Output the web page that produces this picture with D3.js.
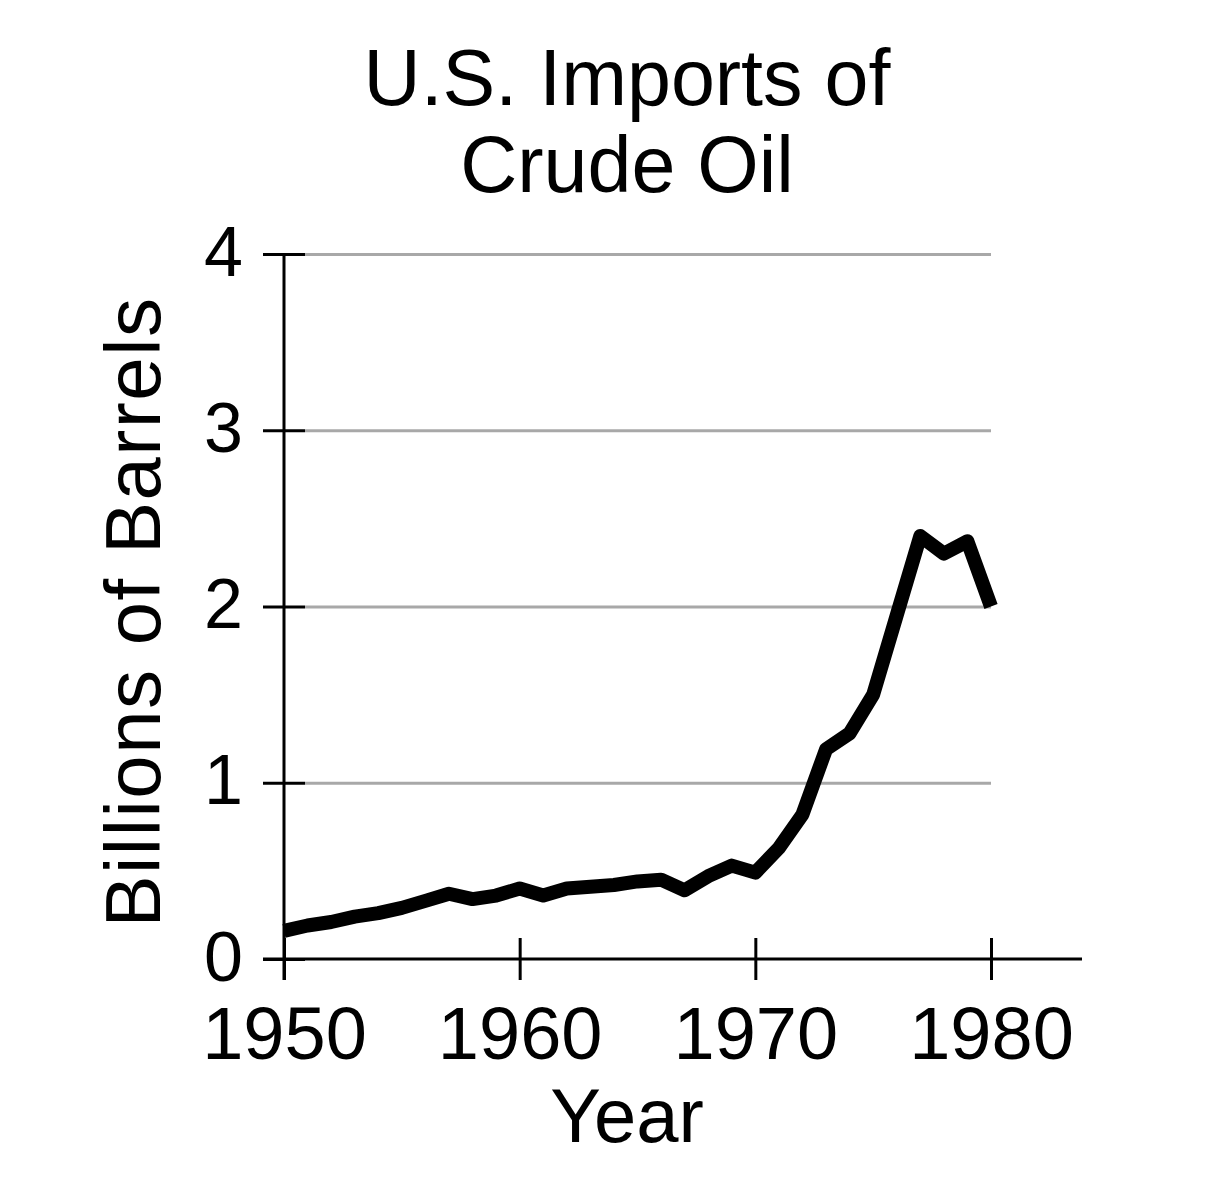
<!DOCTYPE html>
<html>
<head>
<meta charset="utf-8">
<script src="https://cdn.jsdelivr.net/npm/d3@7"></script>
<style>
  body { margin: 0; background: #fff; }
  text { font-family: "Liberation Sans", Arial, Helvetica, sans-serif; fill: #000; }
</style>
</head>
<body>
<div id="chart"></div>
<script>
// values (billions of barrels)
var years = [1950,1951,1952,1953,1954,1955,1956,1957,1958,1959,
             1960,1961,1962,1963,1964,1965,1966,1967,1968,1969,
             1970,1971,1972,1973,1974,1975,1976,1977,1978,1979,1980];
var imports = [0.16,0.19,0.21,0.24,0.26,0.29,0.33,0.37,0.34,0.36,
               0.40,0.36,0.40,0.41,0.42,0.44,0.45,0.39,0.47,0.53,
               0.49,0.63,0.82,1.19,1.28,1.50,1.95,2.40,2.30,2.37,2.00];
var xTicks = [1950, 1960, 1970, 1980];
var yTicks = [0, 1, 2, 3, 4];
var titleLines = ["U.S. Imports of", "Crude Oil"];

var W = 1224, H = 1200;
var svg = d3.select("#chart").append("svg").attr("width", W).attr("height", H);

var x = d3.scaleLinear().domain([1950, 1980]).range([284, 991]);
var y = d3.scaleLinear().domain([0, 4]).range([959, 254]);
var tk = 21;

// gridlines
var grid = svg.append("g").attr("transform", "translate(" + x(1950) + ",0)")
  .call(d3.axisLeft(y).tickValues(yTicks.filter(function(d){ return d > 0; }))
    .tickSize(-(x(1980) - x(1950))).tickFormat(""));
grid.select(".domain").remove();
grid.selectAll("line").attr("stroke", "#a8a8a8").attr("stroke-width", 3).attr("x1", tk);

// y axis
var ya = svg.append("g").attr("transform", "translate(" + x(1950) + ",0)")
  .call(d3.axisLeft(y).tickValues(yTicks).tickFormat(d3.format("d")).tickSize(0).tickPadding(41));
ya.select(".domain").remove();
ya.selectAll(".tick line").attr("x1", -tk).attr("x2", tk).attr("stroke", "#000").attr("stroke-width", 3);
ya.selectAll("text").attr("font-size", 70).attr("dy", "0.3em");
ya.append("line").attr("x1", 0).attr("x2", 0).attr("y1", y(4)).attr("y2", y(0) + tk)
  .attr("stroke", "#000").attr("stroke-width", 3);

// x axis
var xa = svg.append("g").attr("transform", "translate(0," + y(0) + ")")
  .call(d3.axisBottom(x).tickValues(xTicks).tickFormat(d3.format("d")).tickSize(0).tickPadding(47));
xa.select(".domain").remove();
xa.selectAll(".tick line").attr("y1", -tk).attr("y2", tk).attr("stroke", "#000").attr("stroke-width", 3);
xa.selectAll("text").attr("font-size", 74).attr("dy", "0.71em");
xa.append("line").attr("x1", x(1950) - tk).attr("x2", 1082).attr("y1", 0).attr("y2", 0)
  .attr("stroke", "#000").attr("stroke-width", 3);

// data line
var line = d3.line().x(function(d, i){ return x(years[i]); }).y(function(d){ return y(d); });
svg.append("path").datum(imports).attr("d", line)
  .attr("fill", "none").attr("stroke", "#000").attr("stroke-width", 14)
  .attr("stroke-linejoin", "round");

// title
svg.append("g").selectAll("text").data(titleLines).enter().append("text")
  .attr("x", 627).attr("y", function(d, i){ return 105 + i * 87; })
  .attr("text-anchor", "middle").attr("font-size", 79).text(function(d){ return d; });

// axis titles
svg.append("text").attr("x", 627).attr("y", 1142).attr("text-anchor", "middle")
  .attr("font-size", 76).text("Year");
svg.append("text").attr("transform", "translate(160,612) rotate(-90)")
  .attr("text-anchor", "middle").attr("font-size", 78).attr("letter-spacing", 1.5)
  .text("Billions of Barrels");
</script>
</body>
</html>
